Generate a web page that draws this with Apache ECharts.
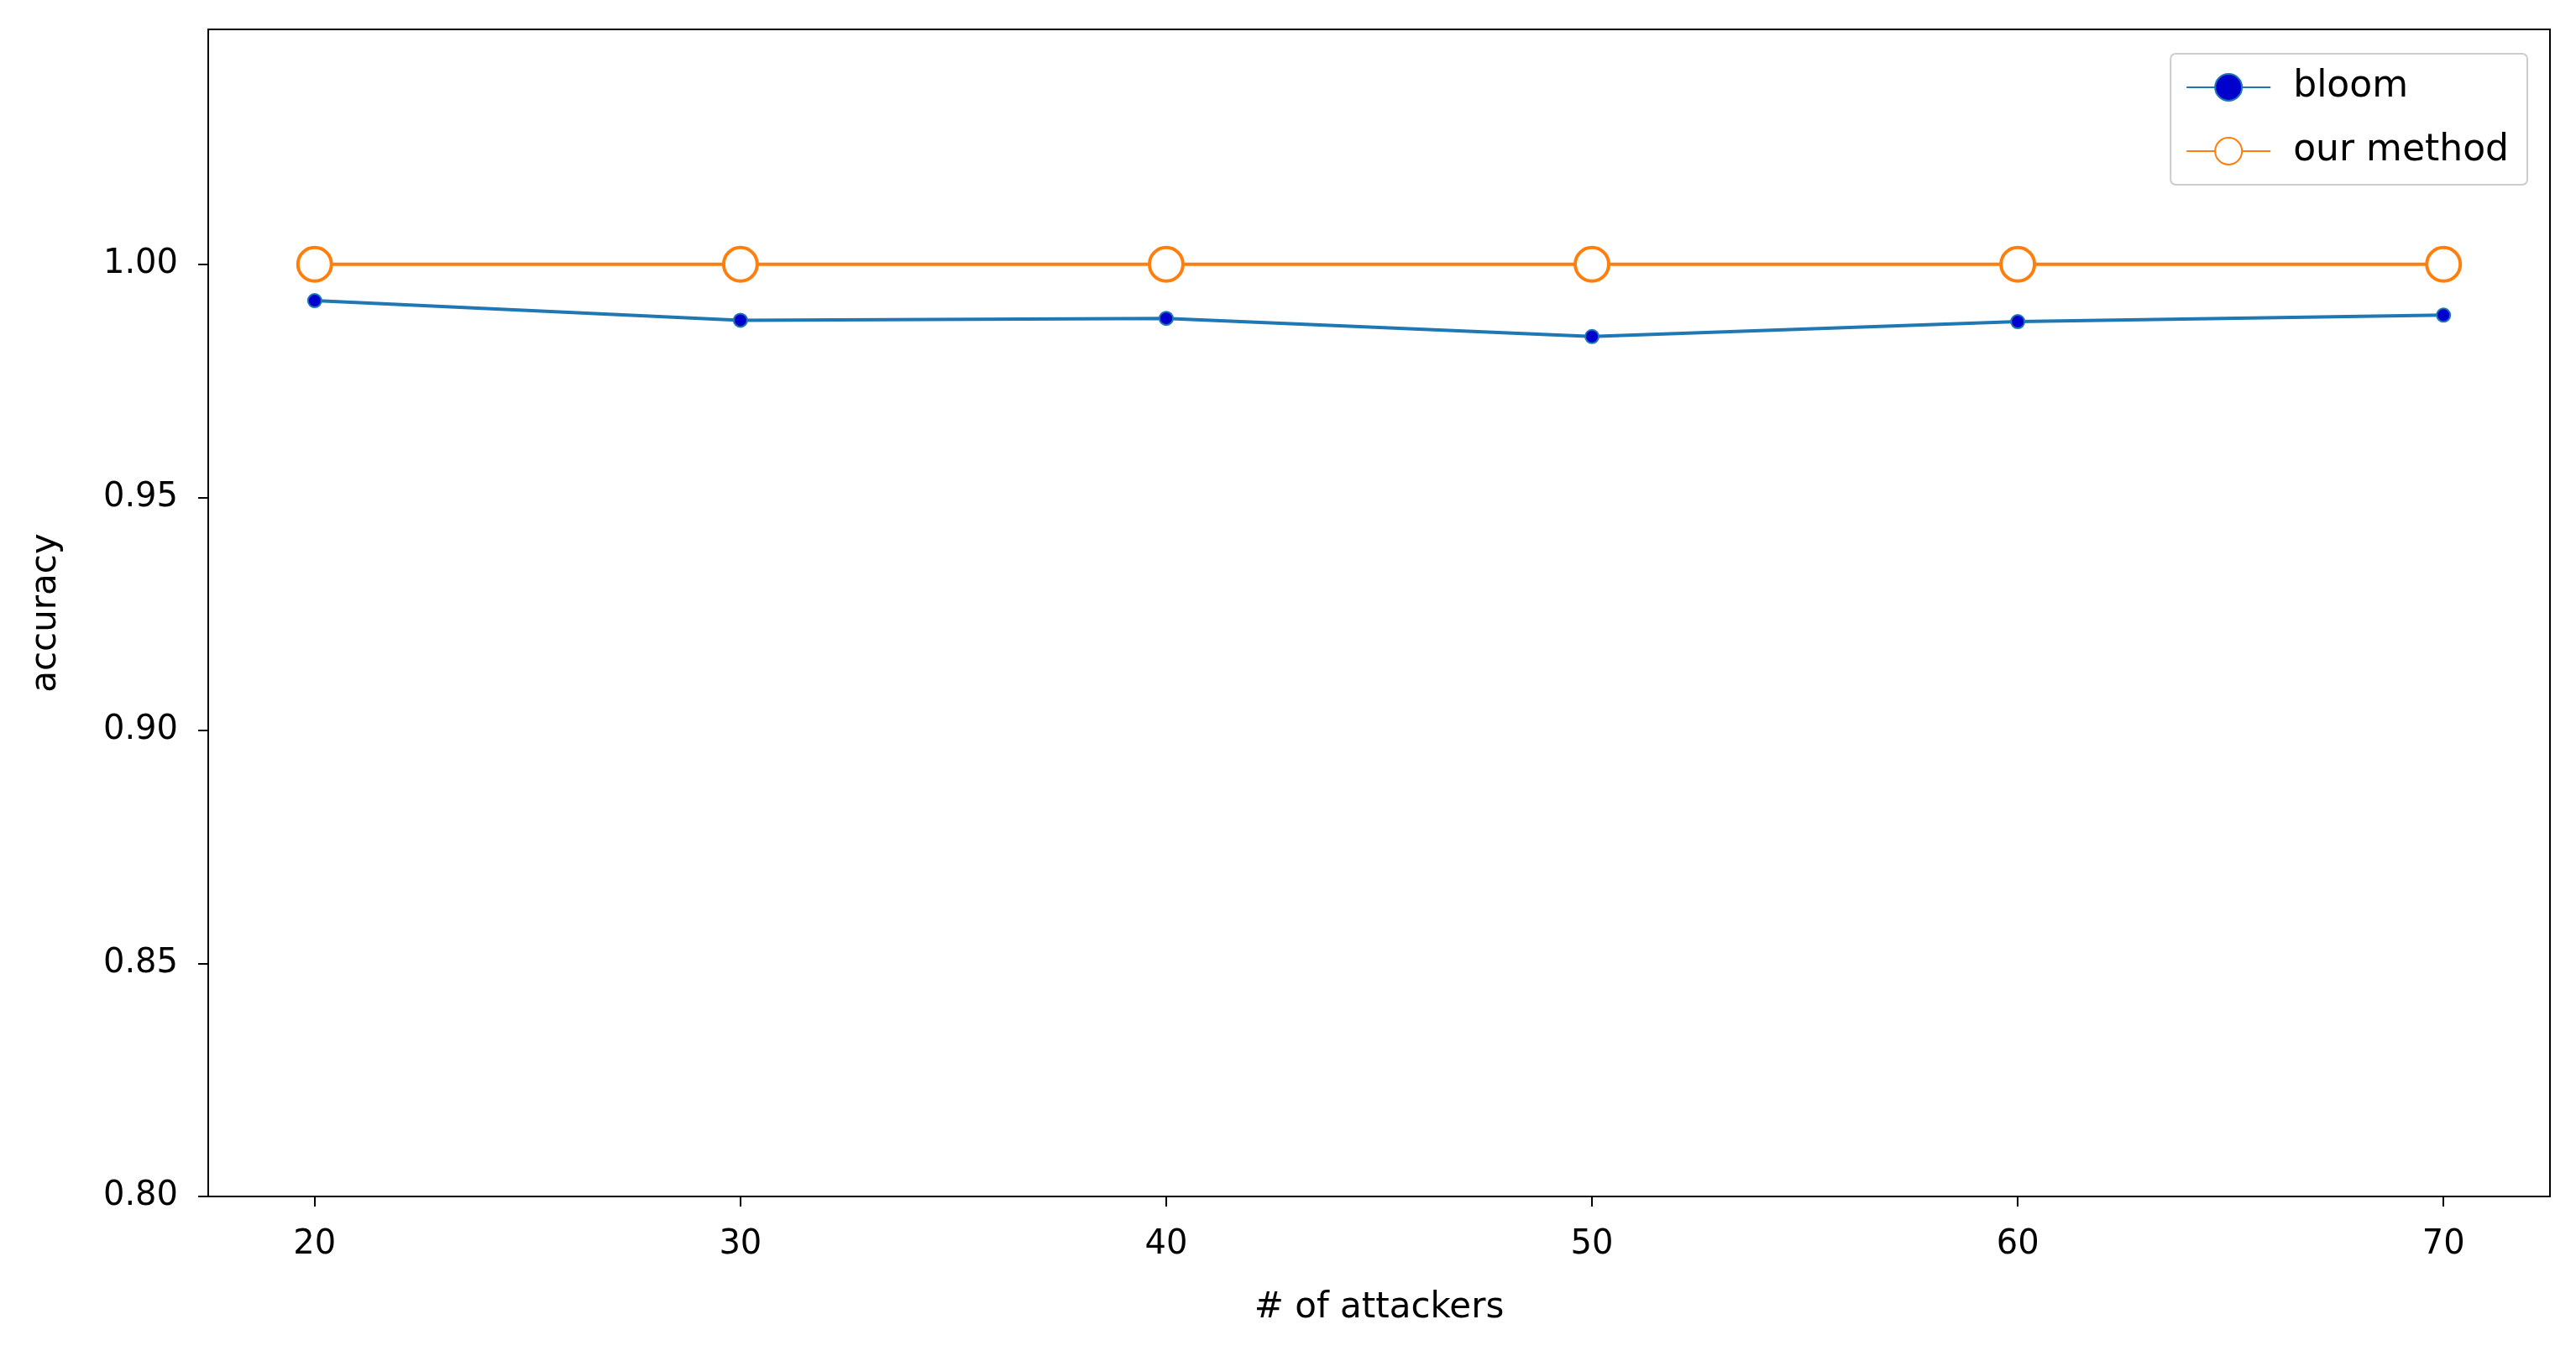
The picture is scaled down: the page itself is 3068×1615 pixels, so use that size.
<!DOCTYPE html>
<html><head><meta charset="utf-8">
<script src="https://cdn.jsdelivr.net/npm/echarts@6/dist/echarts.min.js"></script>
<style>html,body{margin:0;padding:0;background:#fff}#c{width:3068px;height:1615px}</style>
</head><body><div id="c"></div>
<script>
const attackers = [20, 30, 40, 50, 60, 70];
const bloom = [0.9922, 0.9880, 0.9884, 0.9845, 0.9877, 0.9891];
const ourMethod = [1.0, 1.0, 1.0, 1.0, 1.0, 1.0];
const yTicks = [0.80, 0.85, 0.90, 0.95, 1.00];

const chart = echarts.init(document.getElementById('c'));
const font = 'DejaVu Sans';
chart.setOption({
  animation: false,
  textStyle: {fontFamily: font},
  grid: {left: 248, right: 31, top: 35, bottom: 190, containLabel: false},
  legend: {
    orient: 'vertical', right: 58, top: 64, itemWidth: 100, itemHeight: 40, itemGap: 32,
    padding: [18, 22, 18, 18], borderColor: '#ccc', borderWidth: 2, borderRadius: 6,
    textStyle: {fontSize: 44, color: '#000', fontFamily: font, padding: [0, 0, 0, 22]},
    data: ['bloom', 'our method']
  },
  xAxis: {
    type: 'value', min: 17.5, max: 72.5,
    name: '# of attackers', nameLocation: 'middle', nameGap: 112,
    nameTextStyle: {fontSize: 42, color: '#000'},
    axisLine: {show: true, onZero: false, lineStyle: {color: '#000', width: 2}},
    axisTick: {show: true, length: 12, lineStyle: {color: '#000', width: 2}, customValues: attackers},
    axisLabel: {fontSize: 40, color: '#000', margin: 38,
      customValues: attackers, formatter: v => String(v)},
    splitLine: {show: false}
  },
  yAxis: {
    type: 'value', min: 0.8, max: 1.0504,
    name: 'accuracy', nameLocation: 'middle', nameGap: 172,
    nameTextStyle: {fontSize: 42, color: '#000'},
    axisLine: {show: true, lineStyle: {color: '#000', width: 2}},
    axisTick: {show: true, length: 12, lineStyle: {color: '#000', width: 2}, customValues: yTicks},
    axisLabel: {fontSize: 40, color: '#000', margin: 36, customValues: yTicks,
      formatter: v => v.toFixed(2)},
    splitLine: {show: false}
  },
  series: [
    {name: 'bloom', type: 'line', data: attackers.map((x, i) => [x, bloom[i]]),
      color: '#1f77b4', lineStyle: {width: 4, color: '#1f77b4'},
      symbol: 'circle', symbolSize: 16,
      itemStyle: {color: '#0000cc', borderColor: '#1f77b4', borderWidth: 2}},
    {name: 'our method', type: 'line', data: attackers.map((x, i) => [x, ourMethod[i]]),
      color: '#ff7f0e', lineStyle: {width: 4, color: '#ff7f0e'},
      symbol: 'circle', symbolSize: 40,
      itemStyle: {color: '#fff', borderColor: '#ff7f0e', borderWidth: 4}}
  ]
});
chart.setOption({graphic: [{type: 'rect', shape: {x: 248, y: 35, width: 3068-31-248, height: 1615-190-35},
  style: {fill: 'none', stroke: '#000', lineWidth: 2}, silent: true, z: 100}]});
</script></body></html>
